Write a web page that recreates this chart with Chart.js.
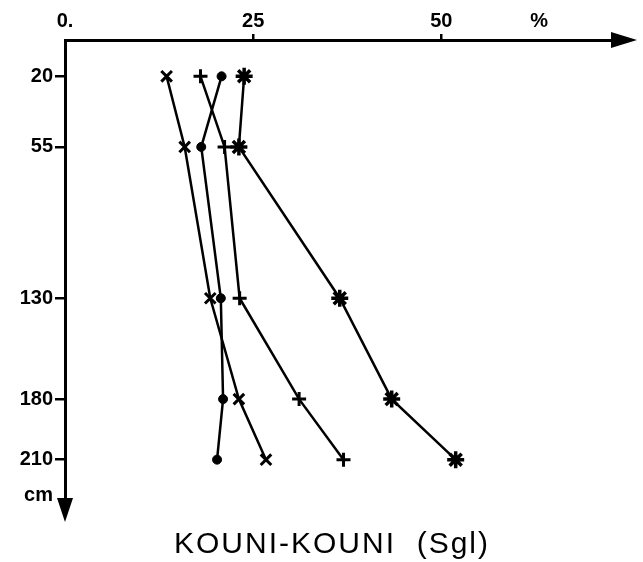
<!DOCTYPE html>
<html lang="fr">
<head>
<meta charset="UTF-8">
<title>KOUNI-KOUNI (Sgl)</title>
<script src="https://cdn.jsdelivr.net/npm/chart.js"></script>
<style>
  html, body { margin: 0; padding: 0; background: #fff; }
  .cadre { position: relative; width: 643px; height: 562px; }
</style>
</head>
<body>
<div class="cadre"><canvas id="profil"></canvas></div>
<script>
// profondeurs des prélèvements (cm)
const profondeurs = [20, 55, 130, 180, 210];

// teneurs (%) par série, de haut en bas
const serieRond   = [20.8, 18.1, 20.7, 21.0, 20.2];
const serieCroix  = [13.5, 15.9, 19.3, 23.1, 26.7];
const seriePlus   = [18.0, 21.2, 23.2, 31.1, 37.0];
const serieEtoile = [23.8, 23.1, 36.5, 43.4, 51.9];

// graduations
const ticksX = [0, 25, 50, 63];
const etiquettesX = ['0.', '25', '50', '%'];
const ticksY = [20, 55, 130, 180, 210, 228];
const etiquettesY = ['20', '55', '130', '180', '210', 'cm'];

const titre = 'KOUNI-KOUNI  (Sgl)';
const police = 'Liberation Sans';

Chart.defaults.font.family = police;
Chart.defaults.color = '#000';

function points(valeurs) {
    return valeurs.map((v, i) => ({ x: v, y: profondeurs[i] }));
}

function serie(valeurs, style, rayon, epaisseur) {
    return {
        data: points(valeurs),
        showLine: true,
        borderColor: '#000',
        backgroundColor: '#000',
        borderWidth: 2.5,
        pointStyle: style,
        pointRadius: rayon,
        pointBorderWidth: epaisseur,
        pointBackgroundColor: '#000',
        pointBorderColor: '#000'
    };
}

// pointes de flèche au bout des axes + titre sous le graphique
const fleches = {
    id: 'fleches',
    afterDraw(chart) {
        const { ctx, chartArea: a } = chart;
        ctx.save();
        ctx.fillStyle = '#000';
        ctx.beginPath();
        ctx.moveTo(a.right - 2, a.top - 8);
        ctx.lineTo(a.right + 24, a.top);
        ctx.lineTo(a.right - 2, a.top + 8);
        ctx.closePath();
        ctx.fill();
        ctx.beginPath();
        ctx.moveTo(a.left - 8, a.bottom - 2);
        ctx.lineTo(a.left, a.bottom + 22);
        ctx.lineTo(a.left + 8, a.bottom - 2);
        ctx.closePath();
        ctx.fill();

        ctx.font = '30px "' + police + '"';
        ctx.letterSpacing = '2px';
        ctx.textAlign = 'center';
        ctx.textBaseline = 'alphabetic';
        ctx.fillText(titre, 332, 553);
        ctx.restore();
    }
};

const policeAxes = { family: police, size: 20, weight: 'bold' };

new Chart(document.getElementById('profil'), {
    type: 'scatter',
    data: {
        datasets: [
            serie(serieRond, 'circle', 4.5, 1),
            serie(serieCroix, 'crossRot', 7.5, 3),
            serie(seriePlus, 'cross', 7, 3),
            serie(serieEtoile, 'star', 8.5, 3.5)
        ]
    },
    options: {
        responsive: true,
        maintainAspectRatio: false,
        animation: false,
        layout: { padding: { top: 0, left: 0, right: 30, bottom: 62 } },
        plugins: {
            legend: { display: false },
            tooltip: { enabled: false }
        },
        scales: {
            x: {
                type: 'linear',
                position: 'top',
                min: 0,
                max: 72.8,
                afterBuildTicks: s => { s.ticks = ticksX.map(v => ({ value: v })); },
                afterFit: s => { s.height = 40; },
                ticks: {
                    callback: (v, i) => etiquettesX[i],
                    color: '#000',
                    font: policeAxes,
                    padding: 1,
                    maxRotation: 0,
                    autoSkip: false
                },
                grid: {
                    drawOnChartArea: false,
                    drawTicks: true,
                    tickLength: 6,
                    lineWidth: 2.5,
                    color: c => (c.tick && (c.tick.value === 25 || c.tick.value === 50)) ? '#000' : 'rgba(0,0,0,0)'
                },
                border: { display: true, color: '#000', width: 3 }
            },
            y: {
                type: 'linear',
                position: 'left',
                reverse: true,
                min: 2,
                max: 230,
                afterBuildTicks: s => { s.ticks = ticksY.map(v => ({ value: v })); },
                afterFit: s => { s.width = 65; },
                ticks: {
                    callback: (v, i) => etiquettesY[i],
                    color: '#000',
                    font: policeAxes,
                    padding: 2,
                    autoSkip: false
                },
                grid: {
                    drawOnChartArea: false,
                    drawTicks: true,
                    tickLength: 10,
                    lineWidth: 2.5,
                    color: c => (c.tick && c.tick.value !== 228) ? '#000' : 'rgba(0,0,0,0)'
                },
                border: { display: true, color: '#000', width: 3 }
            }
        }
    },
    plugins: [fleches]
});
</script>
</body>
</html>
